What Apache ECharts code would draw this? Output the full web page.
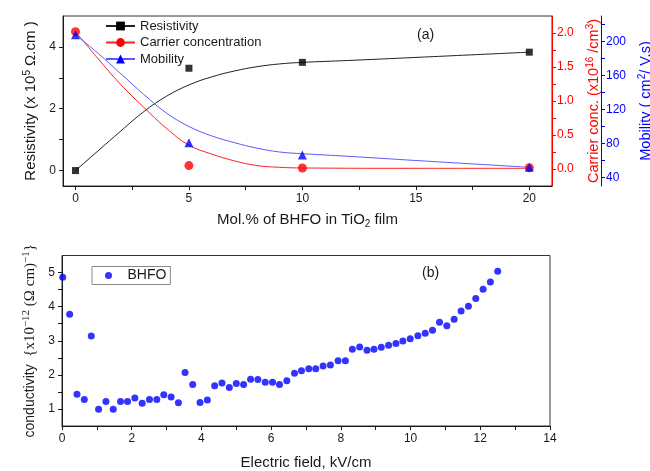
<!DOCTYPE html>
<html>
<head>
<meta charset="utf-8">
<script src="https://cdn.jsdelivr.net/npm/echarts@6/dist/echarts.min.js"></script>
<style>
  html, body { margin: 0; padding: 0; background: #fff; }
  #chart { width: 650px; height: 471px; }
</style>
</head>
<body>
<div id="chart"></div>
<script>
// Panel (a): measured film properties vs. BHFO content
const molPct = [0, 5, 10, 20];
const resistivity = [0.0, 3.31, 3.5, 3.83];
const carrierConc = [2.02, 0.05, 0.015, 0.02];
const mobility = [208, 81, 66.5, 52];

// Smooth fitted trend lines for panel (a), [mol.%, value]
const resistivityFit = [[0, 0], [1, 0.64], [2, 1.28], [3, 1.9], [4, 2.4], [5, 2.77], [6, 3.03], [7, 3.22], [8, 3.36], [9, 3.45], [10, 3.5], [12, 3.56], [15, 3.66], [20, 3.83]];
const carrierFit = [[0, 2.02], [1, 1.62], [2, 1.24], [3, 0.91], [4, 0.6], [5, 0.35], [6, 0.22], [7, 0.12], [8, 0.05], [9, 0.025], [10, 0.015], [15, 0.01], [20, 0.01]];
const mobilityFit = [[0, 208], [1, 186], [2, 162], [3, 138], [4, 116], [5, 100], [6, 89], [7, 81], [8, 74.5], [9, 70], [10, 68], [12, 65], [15, 60], [20, 52]];

// Panel (b): conductivity vs. electric field
const fieldE = [0.02, 0.22, 0.43, 0.64, 0.84, 1.05, 1.26, 1.47, 1.68, 1.88, 2.09, 2.30, 2.51, 2.72, 2.92, 3.13, 3.34, 3.53,
  3.75, 3.96, 4.17, 4.38, 4.59, 4.80, 5.00, 5.21, 5.41, 5.62, 5.83, 6.04, 6.24, 6.45, 6.67, 6.87, 7.08,
  7.28, 7.49, 7.70, 7.92, 8.13, 8.33, 8.54, 8.75, 8.95, 9.16, 9.37, 9.58, 9.78, 9.99, 10.21, 10.42,
  10.63, 10.83, 11.04, 11.25, 11.45, 11.66, 11.87, 12.08, 12.29, 12.50];
const conductivity = [4.86, 3.78, 1.43, 1.28, 3.14, 0.99, 1.22, 0.99, 1.22, 1.22, 1.32, 1.17, 1.28, 1.28, 1.42, 1.35, 1.18, 2.07,
  1.72, 1.19, 1.26, 1.68, 1.76, 1.63, 1.75, 1.72, 1.87, 1.86, 1.78, 1.78, 1.72, 1.83, 2.05, 2.12, 2.18,
  2.18, 2.26, 2.29, 2.41, 2.41, 2.75, 2.82, 2.72, 2.75, 2.81, 2.87, 2.92, 2.99, 3.06, 3.15, 3.22,
  3.31, 3.54, 3.44, 3.63, 3.87, 4.01, 4.24, 4.51, 4.72, 5.04];

// Tick positions
const molTicks = [0, 2.5, 5, 7.5, 10, 12.5, 15, 17.5, 20];
const molLabels = [0, 5, 10, 15, 20];
const resTicks = [0, 1, 2, 3, 4];
const resLabels = [0, 2, 4];
const concTicks = [0, 0.25, 0.5, 0.75, 1, 1.25, 1.5, 1.75, 2];
const concLabels = [0, 0.5, 1, 1.5, 2];
const mobTicks = [40, 60, 80, 100, 120, 140, 160, 180, 200, 220];
const mobLabels = [40, 80, 120, 160, 200];
const fieldTicks = [0, 1, 2, 3, 4, 5, 6, 7, 8, 9, 10, 11, 12, 13, 14];
const fieldLabels = [0, 2, 4, 6, 8, 10, 12, 14];
const condTicks = [1, 1.5, 2, 2.5, 3, 3.5, 4, 4.5, 5];
const condLabels = [1, 2, 3, 4, 5];

const SANS = 'Liberation Sans, Arial, sans-serif';
const SERIF = 'Liberation Serif, Times New Roman, serif';
const INK = '#1a1a1a';
const RED = '#ff0000';
const BLUE = '#0000ff';

function axisBase(color) {
  return {
    type: 'value',
    splitLine: { show: false },
    axisLine: { show: true, onZero: false, lineStyle: { color: color, width: 1 } },
    axisTick: { show: true, inside: false, length: 4, lineStyle: { color: color } },
    axisLabel: { color: color, fontSize: 12, fontFamily: SANS, margin: 6 },
    nameLocation: 'middle',
    nameTextStyle: { color: color, fontSize: 15, fontFamily: SANS }
  };
}

function richName(color, base) {
  return {
    t: { color: color, fontSize: base, fontFamily: SANS, lineHeight: 18 },
    sup: { color: color, fontSize: 10, fontFamily: SANS, verticalAlign: 'top', lineHeight: 11 },
    sub: { color: color, fontSize: 10, fontFamily: SANS, verticalAlign: 'bottom', lineHeight: 11 }
  };
}

const chart = echarts.init(document.getElementById('chart'), null, { renderer: 'canvas' });

const option = {
  animation: false,
  backgroundColor: '#ffffff',
  grid: [
    { left: 63, top: 16, width: 489, height: 170, show: true, borderColor: '#333', borderWidth: 1,
      backgroundColor: 'transparent', containLabel: false, outerBoundsMode: 'none' },
    { left: 62, top: 255.5, width: 488, height: 170.5, show: true, borderColor: '#333', borderWidth: 1,
      backgroundColor: 'transparent', containLabel: false, outerBoundsMode: 'none' }
  ],
  xAxis: [
    Object.assign(axisBase(INK), {
      gridIndex: 0, min: -0.55, max: 21,
      axisTick: { show: true, inside: false, length: 4, lineStyle: { color: INK }, customValues: molTicks },
      axisLabel: { color: INK, fontSize: 12, fontFamily: SANS, margin: 7, customValues: molLabels },
      name: '{t|Mol.% of BHFO in TiO}{sub|2}{t| film}',
      nameGap: 25,
      nameTextStyle: { rich: richName(INK, 15) }
    }),
    Object.assign(axisBase(INK), {
      gridIndex: 1, min: 0, max: 14,
      axisTick: { show: true, inside: false, length: 4, lineStyle: { color: INK }, customValues: fieldTicks },
      axisLabel: { color: INK, fontSize: 12, fontFamily: SANS, margin: 7, customValues: fieldLabels },
      name: 'Electric field, kV/cm',
      nameGap: 29,
      nameTextStyle: { color: INK, fontSize: 15, fontFamily: SANS }
    })
  ],
  yAxis: [
    Object.assign(axisBase(INK), {
      gridIndex: 0, min: -0.5, max: 5, position: 'left',
      axisTick: { show: true, inside: false, length: 4, lineStyle: { color: INK }, customValues: resTicks },
      axisLabel: { color: INK, fontSize: 12, fontFamily: SANS, margin: 7, customValues: resLabels },
      name: '{t|Resistivity (x 10}{sup|5}{t| Ω.cm )}',
      nameRotate: 90,
      nameGap: 23,
      nameTextStyle: { rich: richName(INK, 15) }
    }),
    Object.assign(axisBase(RED), {
      gridIndex: 0, min: -0.25, max: 2.25, position: 'right',
      axisTick: { show: true, inside: false, length: 4, lineStyle: { color: RED }, customValues: concTicks },
      axisLabel: { color: RED, fontSize: 12, fontFamily: SANS, margin: 5, customValues: concLabels,
        formatter: function (v) { return Number(v).toFixed(1); } },
      name: '{t|Carrier conc. (x10}{sup|16}{t| /cm}{sup|3}{t|)}',
      nameRotate: 90,
      nameGap: 33,
      nameTextStyle: { rich: richName(RED, 14.5) }
    }),
    Object.assign(axisBase(BLUE), {
      gridIndex: 0, min: 30, max: 230, position: 'right', offset: 49,
      axisTick: { show: true, inside: false, length: 4, lineStyle: { color: BLUE }, customValues: mobTicks },
      axisLabel: { color: BLUE, fontSize: 12, fontFamily: SANS, margin: 5, customValues: mobLabels },
      name: '{t|Mobility ( cm}{sup|2}{t|/ V.s)}',
      nameRotate: 90,
      nameGap: 29,
      nameTextStyle: { rich: richName(BLUE, 14.5) }
    }),
    Object.assign(axisBase(INK), {
      gridIndex: 1, min: 0.5, max: 5.5, position: 'left',
      axisTick: { show: true, inside: false, length: 4, lineStyle: { color: INK }, customValues: condTicks },
      axisLabel: { color: INK, fontSize: 12, fontFamily: SANS, margin: 7, customValues: condLabels },
      name: '{s|conductivity}  {m|{x10}{ms|−12}{m| (Ω cm)}{ms|−1}}',
      nameRotate: 90,
      nameGap: 22,
      nameTextStyle: {
        color: INK, fontSize: 15, fontFamily: SERIF,
        rich: {
          s: { color: INK, fontSize: 14, fontFamily: SANS, lineHeight: 18 },
          m: { color: INK, fontSize: 15, fontFamily: SERIF, lineHeight: 18 },
          ms: { color: INK, fontSize: 11, fontFamily: SERIF, verticalAlign: 'top', lineHeight: 12 }
        }
      }
    })
  ],
  legend: [
    {
      orient: 'vertical', left: 105, top: 19.5, padding: 0,
      itemWidth: 29, itemHeight: 11, itemGap: 3.5,
      textStyle: { color: INK, fontSize: 13, fontFamily: SANS },
      data: ['Resistivity', 'Carrier concentration', 'Mobility'],
      selectedMode: false
    },
    {
      orient: 'vertical', left: 92, top: 266.5,
      itemWidth: 28, itemHeight: 7, padding: [2, 4, 2, 13],
      borderColor: '#888', borderWidth: 1,
      textStyle: { color: INK, fontSize: 14, fontFamily: SANS },
      data: ['BHFO'],
      selectedMode: false
    }
  ],
  graphic: [
    { type: 'text', left: 417, top: 28, style: { text: '(a)', fill: INK, fontSize: 14, fontFamily: SANS } },
    { type: 'text', left: 422, top: 266, style: { text: '(b)', fill: INK, fontSize: 14, fontFamily: SANS } }
  ],
  series: [
    // fitted trend lines (these carry the legend entries)
    { name: 'Resistivity', type: 'line', xAxisIndex: 0, yAxisIndex: 0, data: resistivityFit,
      smooth: 0.4, showSymbol: false, symbol: 'rect', color: '#000',
      lineStyle: { color: '#222', width: 1 }, z: 2, silent: true },
    { name: 'Carrier concentration', type: 'line', xAxisIndex: 0, yAxisIndex: 1, data: carrierFit,
      smooth: 0.4, showSymbol: false, symbol: 'circle', color: RED,
      lineStyle: { color: '#ff2020', width: 1 }, z: 2, silent: true },
    { name: 'Mobility', type: 'line', xAxisIndex: 0, yAxisIndex: 2, data: mobilityFit,
      smooth: 0.4, showSymbol: false, symbol: 'triangle', color: BLUE,
      lineStyle: { color: '#5a5aff', width: 1 }, z: 2, silent: true },
    // measured points
    { name: 'resistivity-pts', type: 'scatter', xAxisIndex: 0, yAxisIndex: 0,
      data: molPct.map((x, i) => [x, resistivity[i]]),
      symbol: 'rect', symbolSize: 7, itemStyle: { color: '#000' }, z: 5 },
    { name: 'carrier-pts', type: 'scatter', xAxisIndex: 0, yAxisIndex: 1,
      data: molPct.map((x, i) => [x, carrierConc[i]]),
      symbol: 'circle', symbolSize: 9, itemStyle: { color: RED }, z: 4 },
    { name: 'mobility-pts', type: 'scatter', xAxisIndex: 0, yAxisIndex: 2,
      data: molPct.map((x, i) => [x, mobility[i]]),
      symbol: 'triangle', symbolSize: 9, itemStyle: { color: BLUE }, z: 6 },
    { name: 'BHFO', type: 'scatter', xAxisIndex: 1, yAxisIndex: 3,
      data: fieldE.map((x, i) => [x, conductivity[i]]),
      symbol: 'circle', symbolSize: 7, itemStyle: { color: BLUE }, z: 5 }
  ]
};

chart.setOption(option);
</script>
</body>
</html>
